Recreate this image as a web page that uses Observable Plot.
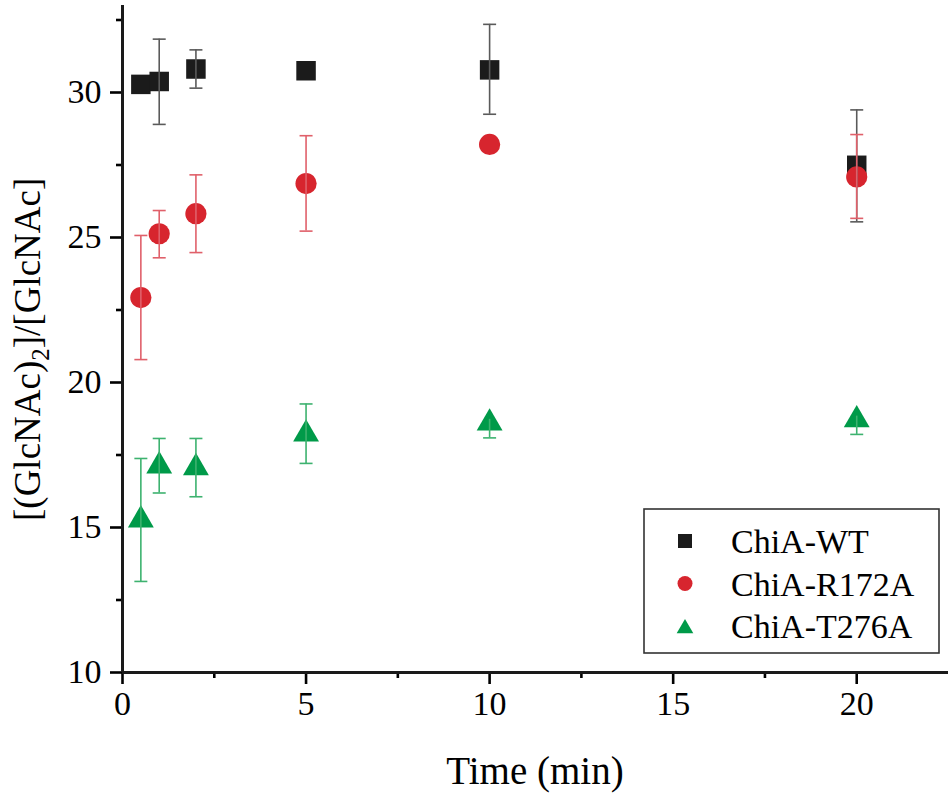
<!DOCTYPE html>
<html><head><meta charset="utf-8">
<script src="https://cdn.jsdelivr.net/npm/d3@7"></script>
<script src="https://cdn.jsdelivr.net/npm/@observablehq/plot@0.6"></script>
<style>
body{margin:0;background:#fff}
#chart{position:relative;width:951px;height:798px}
</style>
</head><body><div id="chart"></div>
<script>
// ---- data ----
const times = [0.5, 1, 2, 5, 10, 20];
const seriesNames = ["ChiA-WT", "ChiA-R172A", "ChiA-T276A"];
const wt     = [30.28, 30.38, 30.81, 30.75, 30.78, 27.49];
const wtLo   = [null, 28.90, 30.15, null, 29.25, 25.54];
const wtHi   = [null, 31.84, 31.47, null, 32.35, 29.40];
const r172   = [22.93, 25.13, 25.82, 26.86, 28.21, 27.09];
const r172Lo = [20.79, 24.30, 24.48, 25.22, null, 25.66];
const r172Hi = [25.07, 25.93, 27.16, 28.51, null, 28.55];
const t276   = [15.39, 17.25, 17.19, 18.35, 18.73, 18.84];
const t276Lo = [13.14, 16.19, 16.06, 17.21, 18.09, 18.21];
const t276Hi = [17.38, 18.07, 18.07, 19.26, null, null];
const xTicks = [0, 5, 10, 15, 20];
const xMinor = [2.5, 7.5, 12.5, 17.5];
const yTicks = [10, 15, 20, 25, 30];
const yMinor = [12.5, 17.5, 22.5, 27.5, 32.5];
const yTitleParts = ["[(GlcNAc)", "2", "]/[GlcNAc]"];

// ---- styles ----
const fillColors = ["#1b1b1b", "#d7252e", "#009a49"];
const barColors  = ["#5a5a5a", "#e0606a", "#3db26f"];
const symbols = [d3.symbolSquare, d3.symbolCircle, d3.symbolTriangle];
const radii = [11, 10.6, 9.6];
const dys = [0, 0, 3.75];
const FONT = "'Liberation Serif', 'Times New Roman', serif";

const raw = [[wt, wtLo, wtHi], [r172, r172Lo, r172Hi], [t276, t276Lo, t276Hi]];
const series = seriesNames.map((name, k) => ({
  name,
  points: times.map((t, i) => ({time: t, value: raw[k][0][i], lo: raw[k][1][i], hi: raw[k][2][i]}))
}));

const capSymbol = {draw(ctx) { ctx.moveTo(-6.5, 0); ctx.lineTo(6.5, 0); }};

const symbolMarks = series.map((s, k) => Plot.dot(s.points, {
  x: "time", y: "value", symbol: () => seriesNames[k], fill: () => seriesNames[k],
  r: radii[k], dy: dys[k], stroke: "none"
}));
const barMarks = series.flatMap((s, k) => {
  const e = s.points.filter(d => d.lo != null || d.hi != null)
    .map(d => ({time: d.time, lo: d.lo ?? d.value, hi: d.hi ?? d.value}));
  const caps = s.points.flatMap(d => [d.lo, d.hi].filter(v => v != null).map(v => ({time: d.time, v})));
  return [
    Plot.ruleX(e, {x: "time", y1: "lo", y2: "hi", stroke: barColors[k], strokeWidth: 1.6}),
    Plot.dot(caps, {x: "time", y: "v", symbol: capSymbol, stroke: barColors[k], strokeWidth: 1.6, r: 5})
  ];
});

const chart = Plot.plot({
  width: 951, height: 798,
  marginLeft: 122, marginRight: 3, marginTop: 5, marginBottom: 126,
  style: {fontFamily: FONT, color: "#000", background: "#fff", overflow: "visible"},
  x: {domain: [0, 22.5]},
  y: {domain: [10, 33]},
  color: {domain: seriesNames, range: fillColors},
  symbol: {domain: seriesNames, range: symbols},
  marks: [
    Plot.axisY({ticks: yTicks, tickSize: 12, tickPadding: 9, fontSize: 34, label: null, strokeWidth: 2.6, tickFormat: d => d}),
    Plot.axisY({ticks: yMinor, tickSize: 6, text: null, label: null, strokeWidth: 2.6}),
    Plot.axisX({ticks: xTicks, tickSize: 12, tickPadding: 6, fontSize: 34, label: null, strokeWidth: 2.6, tickFormat: d => d}),
    Plot.axisX({ticks: xMinor, tickSize: 6, text: null, label: null, strokeWidth: 2.6}),
    Plot.ruleX([0], {stroke: "#1a1a1a", strokeWidth: 3}),
    Plot.ruleY([10], {stroke: "#1a1a1a", strokeWidth: 3}),
    ...symbolMarks,
    ...barMarks
  ]
});
document.getElementById("chart").appendChild(chart);

// ---- titles & legend ----
const svg = d3.select(chart);
svg.append("text")
  .attr("x", 535).attr("y", 784)
  .attr("text-anchor", "middle")
  .attr("font-family", FONT).attr("font-size", 39).attr("fill", "#000")
  .text("Time (min)");

const yg = svg.append("g").attr("transform", "translate(40,521) rotate(-90)");
const partSizes = [37, 25, 37];
const partShift = [0, 9, 0];
let cursor = 0;
yTitleParts.forEach((txt, k) => {
  const t = yg.append("text")
    .attr("x", cursor).attr("y", partShift[k])
    .attr("text-anchor", "start")
    .attr("font-family", FONT).attr("font-size", partSizes[k]).attr("fill", "#000")
    .text(txt);
  cursor += t.node().getComputedTextLength();
});

const lg = svg.append("g");
lg.append("rect").attr("x", 644).attr("y", 509).attr("width", 295).attr("height", 144)
  .attr("fill", "#fff").attr("stroke", "#333").attr("stroke-width", 1.6);
const legendSizes = [14 * 14, Math.PI * 7.5 * 7.5, 120];
const legendDy = [0, 0, 2.5];
seriesNames.forEach((name, k) => {
  const cy = 541 + k * 42.5;
  lg.append("path")
    .attr("transform", `translate(685,${cy + legendDy[k]})`)
    .attr("d", d3.symbol(symbols[k], legendSizes[k])())
    .attr("fill", fillColors[k]);
  lg.append("text").attr("x", 731).attr("y", cy + 12)
    .attr("text-anchor", "start")
    .attr("font-family", FONT).attr("font-size", 34).attr("fill", "#000")
    .text(name);
});
</script>
</body></html>
